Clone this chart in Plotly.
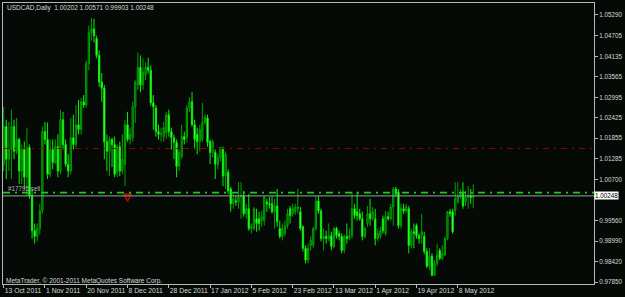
import plotly.graph_objects as go

# ---- data (USDCAD, Daily) ----
open_ = [
1.0113,1.0218,1.0127,1.0154,1.0218,1.0149,1.0182,1.0094,1.0154,1.0077,
1.0160,1.0025,0.9928,0.9912,0.9934,0.9983,1.0204,1.0182,1.0085,1.0154,
1.0118,1.0162,1.0094,1.0237,1.0168,1.0113,1.0094,1.0187,1.0168,1.0223,
1.0209,1.0287,1.0278,1.0394,1.0479,1.0490,1.0463,1.0416,1.0342,1.0325,
1.0176,1.0149,1.0182,1.0168,1.0091,1.0162,1.0094,1.0113,1.0223,1.0182,
1.0187,1.0273,1.0334,1.0383,1.0334,1.0361,1.0383,1.0375,1.0284,1.0270,
1.0204,1.0196,1.0190,1.0201,1.0251,1.0204,1.0187,1.0174,1.0107,1.0135,
1.0190,1.0187,1.0270,1.0287,1.0223,1.0196,1.0176,1.0182,1.0229,1.0242,
1.0176,1.0146,1.0146,1.0113,1.0132,1.0154,1.0080,1.0091,1.0044,1.0003,
1.0011,1.0008,1.0022,1.0025,0.9975,0.9989,0.9934,0.9934,0.9961,0.9961,
0.9956,0.9956,1.0008,1.0003,1.0003,0.9981,0.9997,0.9934,0.9912,0.9920,
0.9942,0.9989,0.9975,0.9981,0.9989,0.9981,0.9939,0.9879,0.9846,0.9887,
0.9887,0.9934,1.0011,0.9983,0.9906,0.9912,0.9906,0.9914,0.9884,0.9934,
0.9920,0.9912,0.9873,0.9912,0.9906,0.9914,0.9989,0.9981,0.9975,0.9961,
0.9912,0.9948,0.9975,0.9961,0.9961,0.9906,0.9912,0.9961,0.9920,0.9967,
0.9961,0.9994,1.0044,1.0036,0.9942,0.9989,0.9983,0.9989,0.9887,0.9925,
0.9942,0.9914,0.9914,0.9912,0.9870,0.9829,0.9857,0.9804,0.9837,0.9873,
0.9851,0.9860,0.9906,0.9981,0.9981,0.9983,1.0008,1.0022,1.0036,1.0008,
1.0022,1.0025,1.00202]

high = [
1.0273,1.0237,1.0231,1.0265,1.0237,1.0242,1.0187,1.0168,1.0176,1.0215,
1.0168,1.0044,0.9948,0.9948,1.0003,1.0218,1.0231,1.0229,1.0182,1.0182,
1.0182,1.0196,1.0265,1.0259,1.0182,1.0141,1.0242,1.0251,1.0278,1.0292,
1.0298,1.0306,1.0402,1.0499,1.0521,1.0518,1.0471,1.0430,1.0367,1.0334,
1.0196,1.0190,1.0187,1.0190,1.0168,1.0176,1.0196,1.0237,1.0259,1.0215,
1.0287,1.0347,1.0424,1.0416,1.0408,1.0397,1.0410,1.0388,1.0306,1.0278,
1.0223,1.0215,1.0231,1.0259,1.0265,1.0215,1.0196,1.0182,1.0154,1.0223,
1.0204,1.0278,1.0300,1.0314,1.0237,1.0215,1.0223,1.0284,1.0251,1.0251,
1.0182,1.0182,1.0154,1.0141,1.0162,1.0162,1.0149,1.0099,1.0050,1.0030,
1.0025,1.0063,1.0063,1.0039,1.0003,1.0030,0.9948,0.9994,0.9989,0.9981,
0.9983,1.0025,1.0017,1.0022,1.0025,1.0017,1.0044,0.9956,0.9948,0.9956,
0.9989,0.9997,1.0003,1.0003,1.0044,0.9994,0.9942,0.9887,0.9892,0.9912,
0.9939,1.0025,1.0025,0.9989,0.9934,0.9928,0.9948,0.9925,0.9939,0.9939,
0.9928,0.9920,0.9917,0.9948,0.9934,1.0036,1.0003,1.0036,0.9989,0.9981,
0.9939,0.9997,1.0017,0.9994,0.9989,0.9934,0.9939,0.9970,0.9983,0.9981,
1.0003,1.0050,1.0050,1.0044,1.0003,1.0003,1.0003,0.9997,0.9934,0.9948,
0.9948,0.9920,0.9975,0.9925,0.9879,0.9879,0.9865,0.9846,0.9892,0.9879,
0.9887,0.9912,0.9983,0.9989,0.9989,1.0063,1.0063,1.0044,1.0063,1.0039,
1.0052,1.0044,1.00571]

low = [
1.0094,1.0072,1.0094,1.0072,1.0127,1.0141,1.0058,1.0058,1.0044,1.0025,
1.0017,0.9906,0.9892,0.9898,0.9917,0.9975,1.0168,1.0072,1.0077,1.0099,
1.0113,1.0077,1.0085,1.0154,1.0105,1.0077,1.0085,1.0154,1.0160,1.0196,
1.0196,1.0270,1.0270,1.0375,1.0457,1.0452,1.0408,1.0328,1.0287,1.0127,
1.0094,1.0080,1.0105,1.0077,1.0077,1.0080,1.0085,1.0052,1.0176,1.0168,
1.0176,1.0229,1.0320,1.0314,1.0320,1.0347,1.0366,1.0276,1.0209,1.0190,
1.0182,1.0176,1.0176,1.0182,1.0190,1.0154,1.0127,1.0077,1.0094,1.0127,
1.0168,1.0174,1.0259,1.0218,1.0154,1.0141,1.0149,1.0176,1.0223,1.0162,
1.0113,1.0132,1.0072,1.0099,1.0121,1.0052,1.0044,1.0030,0.9981,0.9989,
0.9997,0.9989,0.9961,0.9967,0.9961,0.9928,0.9920,0.9928,0.9925,0.9928,
0.9939,0.9942,0.9981,0.9989,0.9975,0.9934,0.9939,0.9906,0.9901,0.9912,
0.9934,0.9948,0.9967,0.9972,0.9975,0.9928,0.9870,0.9837,0.9837,0.9873,
0.9879,0.9928,0.9975,0.9898,0.9873,0.9892,0.9898,0.9873,0.9879,0.9906,
0.9901,0.9865,0.9865,0.9892,0.9901,0.9906,0.9961,0.9956,0.9956,0.9901,
0.9906,0.9939,0.9942,0.9956,0.9887,0.9898,0.9906,0.9920,0.9914,0.9956,
0.9956,0.9942,1.0022,0.9934,0.9934,0.9975,0.9978,0.9865,0.9879,0.9879,
0.9906,0.9892,0.9892,0.9862,0.9824,0.9818,0.9801,0.9802,0.9829,0.9846,
0.9846,0.9857,0.9901,0.9967,0.9920,0.9970,1.0003,1.0017,0.9989,0.9997,
0.9989,1.0003,0.99903]

close = [
1.0218,1.0127,1.0154,1.0218,1.0149,1.0182,1.0094,1.0154,1.0077,1.0160,
1.0025,0.9928,0.9912,0.9934,0.9983,1.0204,1.0182,1.0085,1.0154,1.0118,
1.0162,1.0094,1.0237,1.0168,1.0113,1.0094,1.0187,1.0168,1.0223,1.0209,
1.0287,1.0278,1.0394,1.0479,1.0490,1.0471,1.0416,1.0342,1.0325,1.0176,
1.0149,1.0182,1.0168,1.0085,1.0162,1.0094,1.0127,1.0223,1.0182,1.0196,
1.0273,1.0342,1.0383,1.0334,1.0369,1.0383,1.0375,1.0284,1.0273,1.0204,
1.0196,1.0198,1.0215,1.0251,1.0204,1.0187,1.0174,1.0107,1.0146,1.0190,
1.0182,1.0270,1.0287,1.0223,1.0182,1.0176,1.0209,1.0229,1.0245,1.0174,
1.0146,1.0176,1.0113,1.0132,1.0160,1.0080,1.0141,1.0039,1.0003,1.0017,
1.0008,1.0022,1.0025,0.9975,0.9989,0.9934,0.9939,0.9989,0.9948,0.9948,
0.9967,1.0022,1.0003,1.0000,0.9981,0.9997,0.9953,0.9912,0.9934,0.9942,
0.9975,0.9970,0.9989,0.9994,0.9994,0.9934,0.9879,0.9846,0.9879,0.9901,
0.9934,1.0011,0.9983,0.9906,0.9912,0.9906,0.9914,0.9884,0.9934,0.9914,
0.9912,0.9873,0.9912,0.9906,0.9914,0.9989,0.9970,0.9970,0.9961,0.9912,
0.9934,0.9975,0.9961,0.9981,0.9906,0.9920,0.9928,0.9928,0.9967,0.9961,
0.9994,1.0044,1.0030,0.9942,0.9989,0.9983,0.9994,0.9887,0.9925,0.9920,
0.9914,0.9906,0.9925,0.9870,0.9829,0.9857,0.9804,0.9837,0.9860,0.9851,
0.9865,0.9906,0.9981,0.9975,0.9925,1.0017,1.0022,1.0030,0.9997,1.0022,
1.0025,1.0020,1.00248]

date_ticks = [0, 16, 32, 48, 64, 80, 96, 112, 128, 144, 160, 176]
date_labels = ["13 Oct 2011", "1 Nov 2011", "20 Nov 2011", "8 Dec 2011",
               "28 Dec 2011", "17 Jan 2012", "5 Feb 2012", "23 Feb 2012",
               "13 Mar 2012", "1 Apr 2012", "19 Apr 2012", "8 May 2012"]
price_ticks = [1.05290, 1.04705, 1.04135, 1.03565, 1.02995, 1.02425, 1.01855,
               1.01285, 1.00700, 0.99560, 0.98990, 0.98420, 0.97850]

order_label = "#17795 sell"
order_price = 1.0034      # green dash-dot order line
stop_price = 1.0157       # red dash-dot line
trade_bar = [48]
trade_price = [1.0010]
symbol_title = "USDCAD,Daily  1.00202 1.00571 0.99903 1.00248"

BG = "#060a06"
FRAME = "#b8b8b8"
TXT = "#d8d8d8"
FONT = "Liberation Sans"

x = list(range(len(close)))

fig = go.Figure()
fig.add_trace(go.Candlestick(
    x=x, open=open_, high=high, low=low, close=close,
    increasing=dict(line=dict(color="#00a000", width=1), fillcolor="#0a520a"),
    decreasing=dict(line=dict(color="#00f000", width=1), fillcolor="#9cff9c"),
    whiskerwidth=0, showlegend=False, hoverinfo="skip"))

fig.add_trace(go.Scatter(
    x=trade_bar, y=trade_price, mode="markers", showlegend=False, hoverinfo="skip",
    marker=dict(symbol="arrow-down-open", size=7, color="#d00000",
                line=dict(color="#d00000", width=1.5))))

last = close[-1]
fig.add_shape(type="line", xref="paper", x0=0, x1=1, yref="y", y0=stop_price, y1=stop_price,
              line=dict(color="#9a0000", width=1, dash="6px,5px,2px,5px"))
fig.add_shape(type="line", xref="paper", x0=0, x1=1, yref="y", y0=order_price, y1=order_price,
              line=dict(color="#10d010", width=1.6, dash="7px,5px,2px,5px"))
fig.add_shape(type="line", xref="paper", x0=0, x1=1, yref="y", y0=last, y1=last,
              line=dict(color="#98a0a8", width=1))

fig.add_annotation(xref="paper", x=0, xanchor="left", xshift=2, yref="paper", y=1,
                   yanchor="top", yshift=1, text=symbol_title, showarrow=False,
                   font=dict(family=FONT, size=6.5, color=TXT))
fig.add_annotation(xref="paper", x=0, xanchor="left", xshift=1, yref="paper", y=0,
                   yanchor="bottom", yshift=-3, text="MetaTrader, © 2001-2011 MetaQuotes Software Corp.",
                   showarrow=False, font=dict(family=FONT, size=6.5, color=TXT))
fig.add_annotation(xref="paper", x=0, xanchor="left", xshift=3, yref="y", y=order_price,
                   yanchor="bottom", yshift=-1, text=order_label, showarrow=False,
                   font=dict(family=FONT, size=6.3, color="#b0b0b0"))
fig.add_annotation(xref="paper", x=1, xanchor="left", xshift=0, yref="y", y=last,
                   yanchor="middle", text=f"{last:.5f}", showarrow=False,
                   bgcolor="#ffffff", borderpad=0,
                   font=dict(family=FONT, size=6.3, color="#000000"))

fig.update_layout(
    width=625, height=297,
    margin=dict(l=2, r=25, t=2, b=11, pad=0),
    paper_bgcolor=BG, plot_bgcolor=BG,
    font=dict(family=FONT, size=7, color=TXT),
    showlegend=False,
    xaxis=dict(range=[-0.27, 228.8], tickmode="array", tickvals=date_ticks, ticktext=date_labels,
               ticks="outside", ticklen=3, tickcolor=FRAME, showline=True, linecolor=FRAME,
               linewidth=1, mirror=True, showgrid=False, zeroline=False, tickangle=0,
               rangeslider=dict(visible=False), ticklabelposition="outside right",
               tickfont=dict(family=FONT, size=6.8, color=TXT)),
    yaxis=dict(range=[0.97795, 1.05621], side="right", tickmode="array", tickvals=price_ticks,
               ticktext=[f"{v:.5f}" for v in price_ticks], ticks="outside", ticklen=3,
               tickcolor=FRAME, showline=True, linecolor=FRAME, linewidth=1, mirror=True,
               showgrid=False, zeroline=False,
               tickfont=dict(family=FONT, size=6.3, color=TXT)),
)

fig.write_html("out.html", config={"displayModeBar": False})
